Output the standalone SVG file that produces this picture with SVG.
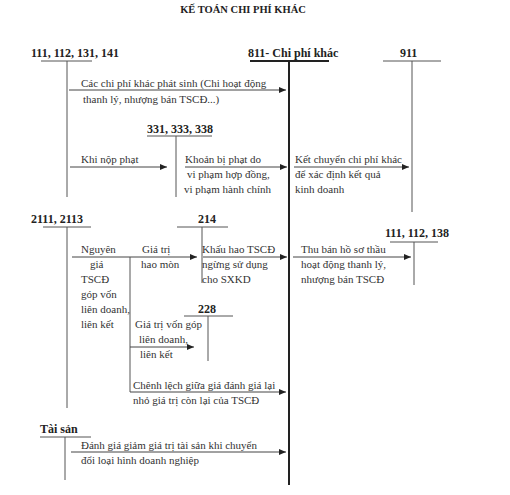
<svg xmlns="http://www.w3.org/2000/svg" width="510" height="495" viewBox="0 0 510 495">
<style>
.t{font-family:"Liberation Serif","Times New Roman",serif;font-size:11px;fill:#333}
.h{font-family:"Liberation Serif","Times New Roman",serif;font-size:12px;font-weight:bold;fill:#222}
.ttl{font-family:"Liberation Serif","Times New Roman",serif;font-size:10.5px;font-weight:bold;fill:#222}
.ln{stroke:#555;stroke-width:1;fill:none}
.bk{stroke:#222;stroke-width:2;fill:none}
.ar{stroke:#444;stroke-width:1;fill:none;marker-end:url(#ah)}
</style>
<defs>
<marker id="ah" markerUnits="userSpaceOnUse" markerWidth="8" markerHeight="6" refX="7" refY="3" orient="auto">
<path d="M0,0 L7,3 L0,6 Z" fill="#222"/>
</marker>
</defs>
<rect width="510" height="495" fill="#fff"/>
<text class="ttl" x="243" y="13" text-anchor="middle">KẾ TOÁN CHI PHÍ KHÁC</text>

<g id="acc-111-112-131-141">
<text class="h" x="31" y="57">111, 112, 131, 141</text>
<line class="ln" x1="41" y1="61" x2="92" y2="61"/>
<line class="ln" x1="67" y1="61" x2="67" y2="197"/>
</g>
<g id="acc-811">
<text class="h" x="248" y="57">811- Chi phí khác</text>
<line class="bk" x1="250" y1="61" x2="329" y2="61"/>
<line class="bk" x1="289" y1="61" x2="289" y2="485"/>
</g>
<g id="acc-911">
<text class="h" x="400" y="57">911</text>
<line class="ln" x1="383" y1="61" x2="441" y2="61"/>
<line class="ln" x1="412" y1="61" x2="412" y2="212"/>
</g>
<g id="acc-331-333-338">
<text class="h" x="147" y="133">331, 333, 338</text>
<line class="ln" x1="147" y1="136" x2="212" y2="136"/>
<line class="ln" x1="176" y1="136" x2="176" y2="197"/>
</g>
<g id="acc-2111-2113">
<text class="h" x="31" y="223">2111, 2113</text>
<line class="ln" x1="43" y1="227" x2="91" y2="227"/>
<line class="ln" x1="67" y1="227" x2="67" y2="408"/>
</g>
<g id="acc-214">
<text class="h" x="198" y="223">214</text>
<line class="ln" x1="177" y1="227" x2="228" y2="227"/>
<line class="ln" x1="202" y1="227" x2="202" y2="283"/>
</g>
<g id="acc-111-112-138">
<text class="h" x="385" y="237">111, 112, 138</text>
<line class="ln" x1="390" y1="242" x2="438" y2="242"/>
<line class="ln" x1="414" y1="242" x2="414" y2="285"/>
</g>
<g id="acc-228">
<text class="h" x="198" y="313">228</text>
<line class="ln" x1="184" y1="316" x2="233" y2="316"/>
<line class="ln" x1="208" y1="316" x2="208" y2="361"/>
</g>
<g id="acc-tai-san">
<text class="h" x="40" y="433">Tài sản</text>
<line class="ln" x1="40" y1="437" x2="91" y2="437"/>
<line class="ln" x1="65" y1="437" x2="65" y2="480"/>
</g>

<g id="connectors">
<line class="ar" x1="69" y1="90" x2="286" y2="90"/>
<line class="ar" x1="70" y1="167" x2="167" y2="167"/>
<line class="ar" x1="185" y1="167" x2="287" y2="167"/>
<line class="ar" x1="294" y1="167" x2="409" y2="167"/>
<line class="ar" x1="72" y1="257" x2="197" y2="257"/>
<line class="ln" x1="130" y1="257" x2="130" y2="392"/>
<line class="ar" x1="203" y1="257" x2="287" y2="257"/>
<line class="ar" x1="293" y1="257" x2="411" y2="257"/>
<line class="ar" x1="130" y1="347" x2="194" y2="347"/>
<line class="ar" x1="130" y1="392" x2="286" y2="392"/>
<line class="ar" x1="71" y1="452" x2="286" y2="452"/>
</g>

<g id="labels">
<text class="t" x="81" y="87">Các chi phí khác phát sinh (Chi hoạt động</text>
<text class="t" x="83" y="103">thanh lý, nhượng bán TSCĐ...)</text>
<text class="t" x="81" y="163">Khi nộp phạt</text>
<text class="t" x="185" y="163">Khoản bị phạt do</text>
<text class="t" x="187" y="178">vi phạm hợp đồng,</text>
<text class="t" x="184" y="193">vi phạm hành chính</text>
<text class="t" x="295" y="163">Kết chuyển chi phí khác</text>
<text class="t" x="295" y="178">để xác định kết quả</text>
<text class="t" x="295" y="193">kinh doanh</text>
<text class="t" x="81" y="253">Nguyên</text>
<text class="t" x="90" y="268">giá</text>
<text class="t" x="81" y="283">TSCĐ</text>
<text class="t" x="81" y="298">góp vốn</text>
<text class="t" x="81" y="313">liên doanh,</text>
<text class="t" x="81" y="328">liên kết</text>
<text class="t" x="142" y="253">Giá trị</text>
<text class="t" x="141" y="268">hao mòn</text>
<text class="t" x="202" y="253">Khấu hao TSCĐ</text>
<text class="t" x="202" y="268">ngừng sử dụng</text>
<text class="t" x="202" y="283">cho SXKD</text>
<text class="t" x="301" y="253">Thu bán hồ sơ thầu</text>
<text class="t" x="301" y="268">hoạt động thanh lý,</text>
<text class="t" x="301" y="283">nhượng bán TSCĐ</text>
<text class="t" x="135" y="328">Giá trị vốn góp</text>
<text class="t" x="139" y="343">liên doanh,</text>
<text class="t" x="140" y="358">liên kết</text>
<text class="t" x="133" y="389">Chênh lệch giữa giá đánh giá lại</text>
<text class="t" x="133" y="404">nhỏ giá trị còn lại của TSCĐ</text>
<text class="t" x="81" y="449">Đánh giá giảm giá trị tài sản khi chuyển</text>
<text class="t" x="81" y="464">đổi loại hình doanh nghiệp</text>
</g>
</svg>
